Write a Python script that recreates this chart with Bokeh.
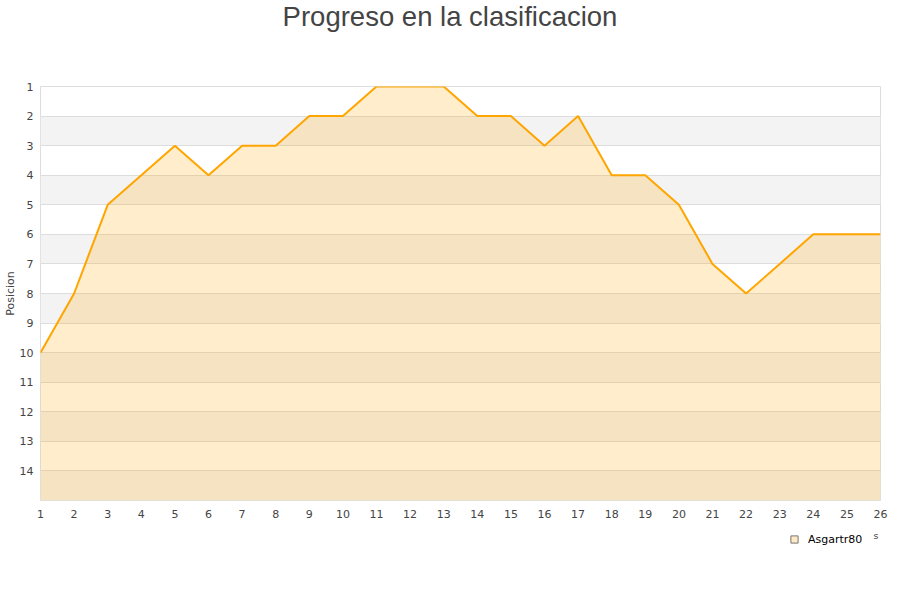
from bokeh.plotting import figure
from bokeh.layouts import column
from bokeh.models import Range1d, FixedTicker, Legend, LegendItem, Label
from bokeh.embed import file_html
from bokeh.resources import INLINE

jornadas = list(range(1, 27))
posicion = [10, 8, 5, 4, 3, 4, 3, 3, 2, 2, 1, 1, 1, 2, 2, 3, 2, 4, 4, 5, 7, 8, 7, 6, 6, 6]
y_ticks = list(range(1, 15))
y_bottom = 15
series_name = "Asgartr80"
title_text = "Progreso en la clasificacion"
axis_fragment = "s"


def blank_figure(height):
    fig = figure(width=900, height=height, output_backend="svg", toolbar_location=None,
                 title=None, x_range=Range1d(0, 1), y_range=Range1d(0, 1),
                 min_border_left=0, min_border_right=0, min_border_top=0, min_border_bottom=0)
    fig.axis.visible = False
    fig.grid.grid_line_color = None
    fig.outline_line_color = None
    fig.background_fill_color = "white"
    fig.border_fill_color = "white"
    return fig


# header with the title
h = blank_figure(50)
h.add_layout(Label(x=409.5, y=34, x_units="screen", y_units="screen", text=title_text,
                   text_align="center", text_baseline="alphabetic",
                   text_font="Liberation Sans", text_font_size="27.5px",
                   text_color="#444444"))

# main chart
p = figure(width=900, height=480, output_backend="svg", toolbar_location=None, title=None,
           x_range=Range1d(1, 26), y_range=Range1d(y_bottom, 1),
           min_border_left=40, min_border_right=20, min_border_top=36, min_border_bottom=30)

p.outline_line_color = "#DDDDDD"
p.background_fill_color = "white"
p.border_fill_color = "white"

p.xgrid.grid_line_color = None
p.ygrid.ticker = FixedTicker(ticks=y_ticks)
p.ygrid.grid_line_color = "#DDDDDD"
p.ygrid.band_fill_color = "#F3F3F3"
p.ygrid.band_fill_alpha = 1.0

for ax in (p.xaxis[0], p.yaxis[0]):
    ax.axis_line_color = None
    ax.major_tick_line_color = None
    ax.minor_tick_line_color = None
    ax.major_label_text_font = "DejaVu Sans"
    ax.major_label_text_font_size = "11px"
    ax.major_label_text_color = "#444444"

p.xaxis.ticker = FixedTicker(ticks=jornadas)
p.xaxis.major_label_standoff = 3
p.yaxis.ticker = FixedTicker(ticks=y_ticks)
p.yaxis.major_label_standoff = 1
p.yaxis.axis_label = "Posicion"
p.yaxis.axis_label_text_font = "DejaVu Sans"
p.yaxis.axis_label_text_font_size = "11px"
p.yaxis.axis_label_text_font_style = "normal"
p.yaxis.axis_label_text_color = "#444444"
p.yaxis.axis_label_standoff = 0

p.varea(x=jornadas, y1=posicion, y2=[y_bottom] * len(jornadas),
        fill_color="#FFA500", fill_alpha=0.2)
p.line(jornadas, posicion, line_color="#FFA500", line_width=2)

# footer with the legend (swatch renderer kept hidden; only its legend glyph shows)
f = blank_figure(70)
swatch = f.scatter(jornadas, posicion, marker="square", size=7,
                   fill_color="#FFE9C4", line_color="#777777", line_width=1)
swatch.visible = False
legend = Legend(items=[LegendItem(label=series_name, renderers=[swatch])],
                location=(745, 52), orientation="horizontal",
                glyph_width=18, glyph_height=18, label_height=18, label_standoff=5,
                padding=0, margin=0, spacing=0,
                border_line_color=None, background_fill_alpha=0,
                inactive_fill_alpha=0,
                label_text_font="DejaVu Sans", label_text_font_size="11px",
                label_text_color="#000000")
f.add_layout(legend, "center")
f.add_layout(Label(x=833, y=65, x_units="screen", y_units="screen", text=axis_fragment,
                   text_baseline="alphabetic",
                   text_font="DejaVu Sans", text_font_size="9.5px", text_color="#444444"))

layout = column(h, p, f, spacing=0)
open("out.html", "w").write(file_html(layout, INLINE))
